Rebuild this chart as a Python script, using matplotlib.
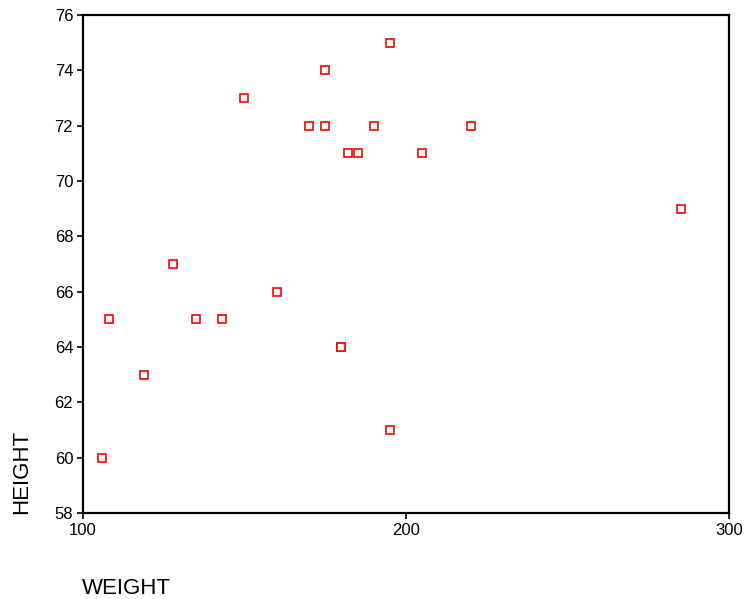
import matplotlib
matplotlib.use("Agg")
import matplotlib.pyplot as plt

# data
weight = [106, 108, 119, 128, 135, 143, 150, 160, 170, 175, 175, 180, 180,
          182, 185, 190, 195, 195, 205, 220, 285]
height = [60, 65, 63, 67, 65, 65, 73, 66, 72, 74, 72, 64, 64,
          71, 71, 72, 75, 61, 71, 72, 69]

x_ticks = [100, 200, 300]
y_ticks = [58, 60, 62, 64, 66, 68, 70, 72, 74, 76]

plt.rcParams['font.family'] = ['Liberation Sans', 'DejaVu Sans']

fig = plt.figure(figsize=(7.47, 5.99), dpi=100)
ax = fig.add_axes([0.111, 0.1436, 0.865, 0.8314])

ax.plot(weight, height, linestyle='none', marker='s', markersize=5.5,
        markerfacecolor='white', markeredgecolor='red', markeredgewidth=1.2)

ax.set_xlim(100, 300)
ax.set_ylim(58, 76)
ax.set_xticks(x_ticks)
ax.set_yticks(y_ticks)
ax.tick_params(direction='out', length=4, width=1.2, labelsize=12, pad=3)
for s in ax.spines.values():
    s.set_linewidth(1.6)

# axis titles sit outside, like the original
fig.text(82 / 747, 1 - 588 / 599, 'WEIGHT', fontsize=16, ha='left', va='center')
fig.text(22 / 747, 1 - 514 / 599, 'HEIGHT', fontsize=16, rotation=90,
         ha='center', va='bottom')

fig.savefig('out.png', dpi=100)
